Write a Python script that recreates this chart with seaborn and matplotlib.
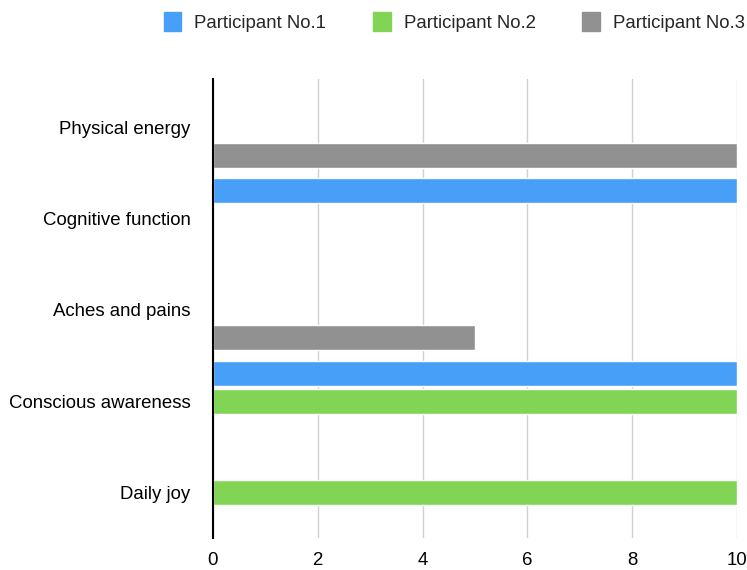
import pandas as pd
import seaborn as sns
import matplotlib.pyplot as plt

# data
categories = ["Physical energy", "Cognitive function", "Aches and pains",
              "Conscious awareness", "Daily joy"]
participants = ["Participant No.1", "Participant No.2", "Participant No.3"]
p1 = [0, 10, 0, 10, 0]
p2 = [0, 0, 0, 10, 10]
p3 = [10, 0, 5, 0, 0]
colors = ["#479ff8", "#82d454", "#919191"]

df = pd.DataFrame({
    "category": categories * 3,
    "participant": [p for p in participants for _ in categories],
    "score": p1 + p2 + p3,
})

sns.set_style("white")
plt.rcParams["font.family"] = ["Liberation Sans", "DejaVu Sans"]

fig = plt.figure(figsize=(7.47, 5.70), dpi=100)
ax = fig.add_axes([0.285, 0.056, 0.7016, 0.8054])

sns.barplot(data=df, y="category", x="score", hue="participant",
            palette=colors, saturation=1, orient="h", width=0.92, gap=0.1,
            order=categories, hue_order=participants, ax=ax, legend=False)

ax.set_xlim(0, 10)
ax.set_ylim(4.5, -0.53)
ax.set_xticks([0, 2, 4, 6, 8, 10])
ax.set_xlabel("")
ax.set_ylabel("")
ax.grid(axis="x", color="#d0d0d0", linewidth=1)
ax.set_axisbelow(True)
for s in ["top", "right", "bottom"]:
    ax.spines[s].set_visible(False)
ax.spines["left"].set_color("black")
ax.spines["left"].set_linewidth(1.5)
ax.tick_params(axis="both", length=0, labelsize=13.4, colors="black")
ax.tick_params(axis="y", pad=16)
ax.tick_params(axis="x", pad=10)

handles = [plt.Rectangle((0, 0), 1, 1, color=c) for c in colors]
fig.legend(handles, participants, loc="center", bbox_to_anchor=(0.608, 0.961),
           ncol=3, frameon=False, fontsize=13.4, handlelength=0.95,
           handleheight=1.15, handletextpad=0.7, columnspacing=2.5)

fig.savefig("out.png", dpi=100)
